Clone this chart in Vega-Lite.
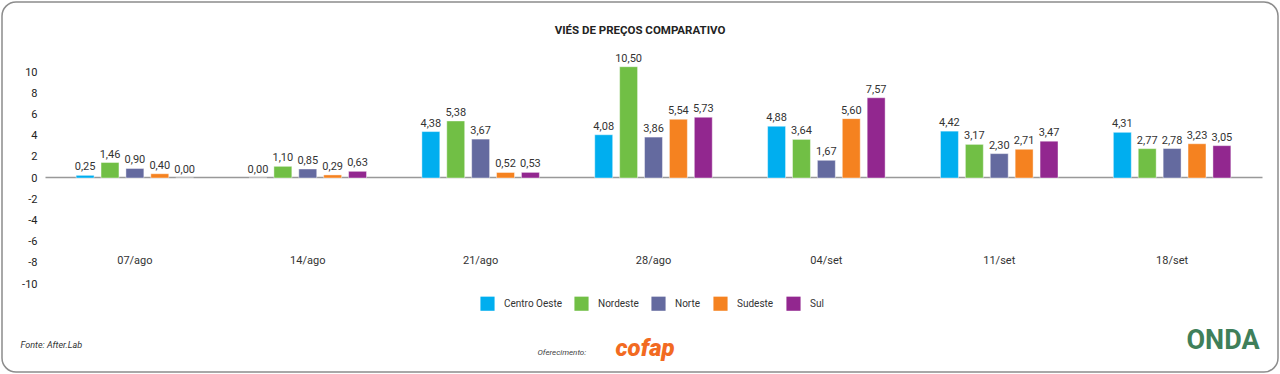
{
  "$schema": "https://vega.github.io/schema/vega-lite/v6.json",
  "width": 1276,
  "height": 370,
  "autosize": "none",
  "padding": {"left": 2, "top": 2, "right": 2, "bottom": 2},
  "background": "white",
  "config": {
    "locale": {"number": {"decimal": ",", "thousands": ".", "grouping": [3], "currency": ["R$", ""], "minus": "-"}},
    "view": {"stroke": "#8c8c8c", "strokeWidth": 1.5, "cornerRadius": 14},
    "font": "Roboto"
  },
  "title": {"text": "VIÉS DE PREÇOS COMPARATIVO", "fontSize": 11.5, "fontWeight": "bold", "color": "#222222", "anchor": "middle", "offset": -34},
  "data": {"values": [
    {"semana": "07/ago", "regiao": "Centro Oeste", "valor": 0.25},
    {"semana": "07/ago", "regiao": "Nordeste", "valor": 1.46},
    {"semana": "07/ago", "regiao": "Norte", "valor": 0.90},
    {"semana": "07/ago", "regiao": "Sudeste", "valor": 0.40},
    {"semana": "07/ago", "regiao": "Sul", "valor": 0.00},
    {"semana": "14/ago", "regiao": "Centro Oeste", "valor": 0.00},
    {"semana": "14/ago", "regiao": "Nordeste", "valor": 1.10},
    {"semana": "14/ago", "regiao": "Norte", "valor": 0.85},
    {"semana": "14/ago", "regiao": "Sudeste", "valor": 0.29},
    {"semana": "14/ago", "regiao": "Sul", "valor": 0.63},
    {"semana": "21/ago", "regiao": "Centro Oeste", "valor": 4.38},
    {"semana": "21/ago", "regiao": "Nordeste", "valor": 5.38},
    {"semana": "21/ago", "regiao": "Norte", "valor": 3.67},
    {"semana": "21/ago", "regiao": "Sudeste", "valor": 0.52},
    {"semana": "21/ago", "regiao": "Sul", "valor": 0.53},
    {"semana": "28/ago", "regiao": "Centro Oeste", "valor": 4.08},
    {"semana": "28/ago", "regiao": "Nordeste", "valor": 10.50},
    {"semana": "28/ago", "regiao": "Norte", "valor": 3.86},
    {"semana": "28/ago", "regiao": "Sudeste", "valor": 5.54},
    {"semana": "28/ago", "regiao": "Sul", "valor": 5.73},
    {"semana": "04/set", "regiao": "Centro Oeste", "valor": 4.88},
    {"semana": "04/set", "regiao": "Nordeste", "valor": 3.64},
    {"semana": "04/set", "regiao": "Norte", "valor": 1.67},
    {"semana": "04/set", "regiao": "Sudeste", "valor": 5.60},
    {"semana": "04/set", "regiao": "Sul", "valor": 7.57},
    {"semana": "11/set", "regiao": "Centro Oeste", "valor": 4.42},
    {"semana": "11/set", "regiao": "Nordeste", "valor": 3.17},
    {"semana": "11/set", "regiao": "Norte", "valor": 2.30},
    {"semana": "11/set", "regiao": "Sudeste", "valor": 2.71},
    {"semana": "11/set", "regiao": "Sul", "valor": 3.47},
    {"semana": "18/set", "regiao": "Centro Oeste", "valor": 4.31},
    {"semana": "18/set", "regiao": "Nordeste", "valor": 2.77},
    {"semana": "18/set", "regiao": "Norte", "valor": 2.78},
    {"semana": "18/set", "regiao": "Sudeste", "valor": 3.23},
    {"semana": "18/set", "regiao": "Sul", "valor": 3.05}
  ]},
  "layer": [
    {
      "mark": {"type": "bar", "stroke": "white", "strokeWidth": 0.6, "strokeOpacity": 0.7},
      "encoding": {
        "x": {"field": "semana", "type": "nominal", "sort": null,
          "scale": {"range": [43, 1260], "paddingInner": 0.28, "paddingOuter": 0.16},
          "axis": {"orient": "bottom", "offset": -118, "domain": false, "ticks": false, "labelPadding": 0, "labelAngle": 0,
            "labelFontSize": 11, "labelColor": "#333333", "labelBaseline": "top",
            "title": "Oferecimento:", "titleFontSize": 8, "titleFontStyle": "italic", "titleFontWeight": "normal", "titleColor": "#444444",
            "titleAnchor": "start", "titleAlign": "left", "titleBaseline": "middle", "titleX": 535, "titleY": 98}},
        "xOffset": {"field": "regiao", "type": "nominal", "scale": {"paddingInner": 0.28, "paddingOuter": 0.14}},
        "y": {"field": "valor", "type": "quantitative",
          "scale": {"domain": [-10, 10], "range": [282, 70], "nice": false, "zero": false},
          "axis": {"orient": "left", "offset": -46, "domain": false, "ticks": false, "grid": false, "values": [-10, -8, -6, -4, -2, 0, 2, 4, 6, 8, 10],
            "format": "d", "labelPadding": 11, "labelFontSize": 11, "labelColor": "#222222",
            "title": "Fonte: After.Lab", "titleAngle": 0, "titleFontSize": 9, "titleFontStyle": "italic", "titleFontWeight": "normal", "titleColor": "#333333",
            "titleAlign": "left", "titleBaseline": "middle", "titleX": -28, "titleY": 342}},
        "color": {"field": "regiao", "type": "nominal",
          "scale": {"domain": ["Centro Oeste", "Nordeste", "Norte", "Sudeste", "Sul"], "range": ["#00AEEF", "#71BF45", "#646A9F", "#F58220", "#92278F"]},
          "legend": {"orient": "none", "direction": "horizontal", "legendX": 478, "legendY": 294, "title": null,
            "symbolType": "square", "symbolSize": 200, "symbolStrokeWidth": 0, "labelFontSize": 10, "labelColor": "#333333",
            "labelOffset": 9, "columnPadding": 12, "padding": 0}}
      }
    },
    {
      "mark": {"type": "text", "baseline": "bottom", "dy": -3, "fontSize": 11, "color": "#333333"},
      "encoding": {
        "x": {"field": "semana", "type": "nominal", "sort": null,
          "scale": {"range": [43, 1260], "paddingInner": 0.28, "paddingOuter": 0.16},
          "axis": {"orient": "top", "offset": -175, "domain": true, "domainColor": "#999999", "domainWidth": 1.5, "ticks": false, "labels": false,
            "title": "cofap", "titleFontSize": 24, "titleFontStyle": "italic", "titleFontWeight": 900, "titleColor": "#F26A21",
            "titleAnchor": "start", "titleAlign": "left", "titleBaseline": "middle", "titleX": 613, "titleY": 171}},
        "xOffset": {"field": "regiao", "type": "nominal", "scale": {"paddingInner": 0.28, "paddingOuter": 0.14}},
        "y": {"field": "valor", "type": "quantitative", "scale": {"domain": [-10, 10], "range": [282, 70], "nice": false, "zero": false},
          "axis": {"orient": "right", "domain": false, "ticks": false, "labels": false, "grid": false,
            "title": "ONDA", "titleAngle": 0, "titleFontSize": 27, "titleFontWeight": "bold", "titleColor": "#3F7F5A",
            "titleAlign": "left", "titleBaseline": "middle", "titleX": -92, "titleY": 338}},
        "text": {"field": "valor", "type": "quantitative", "format": ".2f"}
      }
    }
  ],
  "resolve": {"axis": {"x": "independent", "y": "independent"}}
}
